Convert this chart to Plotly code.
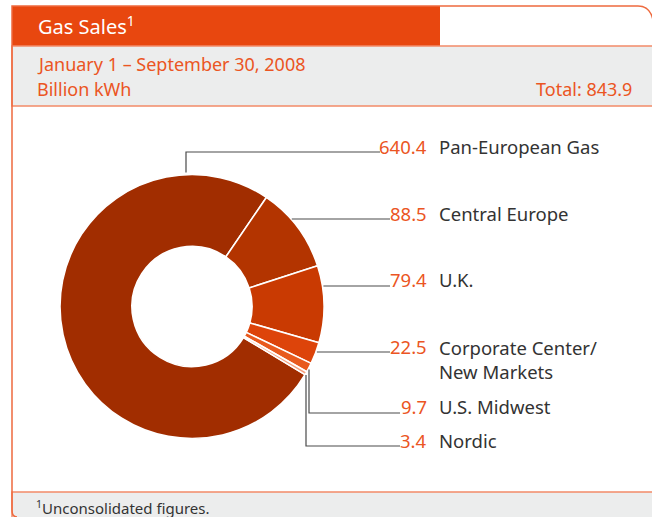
import math
import plotly.graph_objects as go

# data
segments = ["Pan-European Gas", "Central Europe", "U.K.",
            "Corporate Center/<br>New Markets", "U.S. Midwest", "Nordic"]
sales = [640.4, 88.5, 79.4, 22.5, 9.7, 3.4]
value_labels = ["640.4", "88.5", "79.4", "22.5", "9.7", "3.4"]
total_label = "Total: 843.9"

C = {
    "orange": "#E8470F",
    "text_or": "#EB5523",
    "border": "#EE6A3E",
    "rule": "#F28A68",
    "band": "#ECEDED",
    "dark": "#333333",
    "line": "#4a4a4a",
}
slice_colors = ["#A12D00", "#B33400", "#C93A02", "#DD440A", "#E85A1E", "#F5A07E"]

W, H = 652, 517
FONT = "Noto Sans"

# pie geometry (pixels)
CX, CY, R = 192, 306.5, 132

# label rows: (text y, leader kind, vertical x for elbow lines, leader y)
rows = [
    (146, "elbow", 186, 152),
    (213, "h", None, 219),
    (279, "h", None, 286),
    (346, "h", None, 352),
    (406, "elbow", 309, 413),
    (440, "elbow", 306, 446),
]

fig = go.Figure()

fig.add_trace(go.Pie(
    labels=segments, values=sales,
    hole=0.455, sort=False, direction="clockwise", rotation=121.1,
    marker=dict(colors=slice_colors, line=dict(color="white", width=1.6)),
    textinfo="none", hoverinfo="label+value",
    domain=dict(x=[(CX - R) / W, (CX + R) / W],
                y=[1 - (CY + R) / H, 1 - (CY - R) / H]),
    showlegend=False,
))

shapes = []
# bands
shapes.append(dict(type="rect", xref="x", yref="y", x0=12, x1=440, y0=6, y1=46,
                   fillcolor=C["orange"], line_width=0, layer="below"))
shapes.append(dict(type="rect", xref="x", yref="y", x0=12, x1=660, y0=46, y1=106,
                   fillcolor=C["band"], line=dict(color=C["rule"], width=1.5),
                   layer="below"))
shapes.append(dict(type="rect", xref="x", yref="y", x0=12, x1=660, y0=492, y1=530,
                   fillcolor=C["band"], line=dict(color=C["rule"], width=1.5),
                   layer="below"))
# frame: left edge, top edge with rounded top-right corner
shapes.append(dict(type="path", xref="x", yref="y",
                   path="M 17,517 Q 12,517 12,510 L 12,6 L 638,6 Q 650,6 653,20",
                   line=dict(color=C["border"], width=1.5)))

# leader lines: start on the outer edge of the donut
for (ty, kind, vx, ly) in rows:
    if kind == "h":
        sx = CX + math.sqrt(R ** 2 - (ly - CY) ** 2) + 1
        path = f"M {sx:.1f},{ly} L 390,{ly}"
    else:
        dy = math.sqrt(R ** 2 - (vx - CX) ** 2) + 2
        sy = CY - dy if ly < CY else CY + dy
        end = 380 if ly < CY else 400
        path = f"M {vx},{sy:.1f} L {vx},{ly} L {end},{ly}"
    shapes.append(dict(type="path", xref="x", yref="y", path=path,
                       line=dict(color=C["line"], width=1.2)))

annotations = [
    dict(x=36, y=25, text="Gas Sales<sup>1</sup>", xanchor="left", yanchor="middle",
         font=dict(size=20, color="white")),
    dict(x=35, y=64, text="January 1 – September 30, 2008", xanchor="left",
         yanchor="middle", font=dict(size=18, color=C["text_or"])),
    dict(x=35, y=89, text="Billion kWh", xanchor="left", yanchor="middle",
         font=dict(size=18, color=C["text_or"])),
    dict(x=634, y=89, text=total_label, xanchor="right", yanchor="middle",
         font=dict(size=18, color=C["text_or"])),
    dict(x=34, y=507, text="<sup>1</sup>Unconsolidated figures.", xanchor="left",
         yanchor="middle", font=dict(size=15, color=C["dark"])),
]
for (ty, kind, vx, ly), name, val in zip(rows, segments, value_labels):
    annotations.append(dict(x=429, y=ty, text=val, xanchor="right", yanchor="middle",
                            font=dict(size=18.5, color=C["text_or"])))
    lines = name.count("<br>")
    annotations.append(dict(x=437, y=ty + 13 * lines, text=name, xanchor="left",
                            yanchor="middle", align="left",
                            font=dict(size=18.5, color=C["dark"])))
for a in annotations:
    a.update(xref="x", yref="y", showarrow=False)

fig.update_layout(
    width=W, height=H,
    margin=dict(l=0, r=0, t=0, b=0),
    paper_bgcolor="white", plot_bgcolor="rgba(0,0,0,0)",
    font=dict(family=FONT),
    xaxis=dict(range=[0, W], visible=False, fixedrange=True),
    yaxis=dict(range=[H, 0], visible=False, fixedrange=True),
    shapes=shapes, annotations=annotations,
)

fig.write_html("out.html", config={"displayModeBar": False},
               post_script="document.body.style.margin = '0';")
